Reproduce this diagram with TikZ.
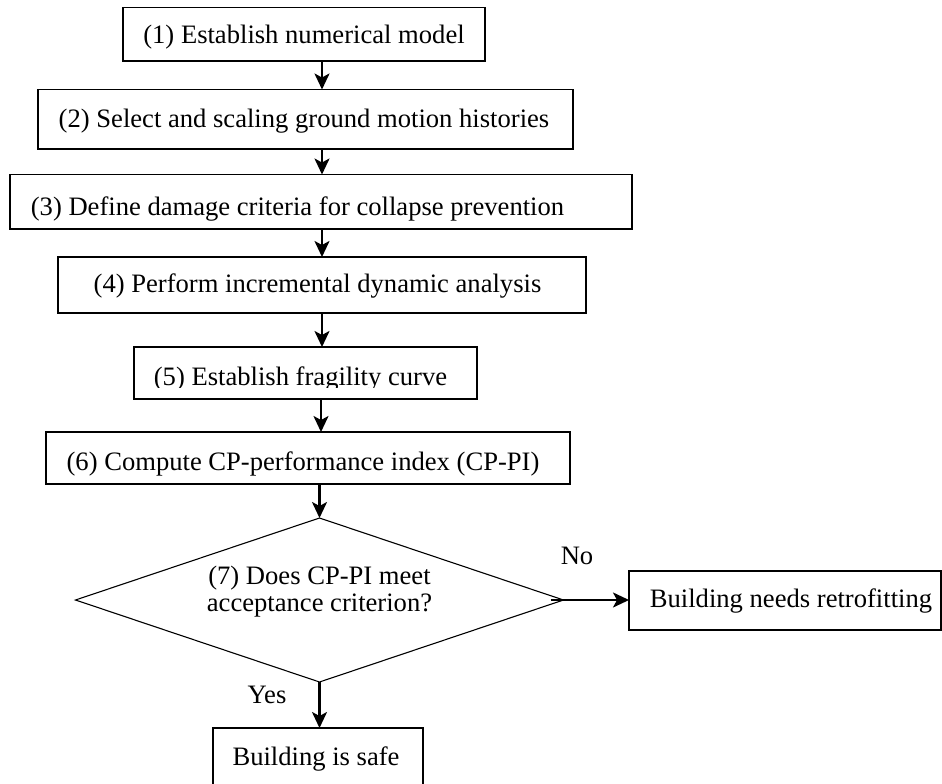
\documentclass[tikz,border=0pt]{standalone}
\usepackage{fontspec}
\setmainfont{Liberation Serif}
\usepackage{trimclip}
\usetikzlibrary{arrows.meta,shapes.geometric}
\begin{document}
\begin{tikzpicture}[x=1pt,y=-1pt,
  box/.style={draw, line width=1.1pt, inner sep=0pt, outer sep=0pt, font=\fontsize{26.6}{27}\selectfont, text depth=0pt},
  decision/.style={draw, line width=1.1pt, shape=diamond, aspect=2.976, inner sep=0pt, outer sep=0pt, font=\fontsize{26.6}{27}\selectfont},
  arr/.style={line width=2.2pt, -{Stealth[length=16pt,width=15pt,inset=4pt]}},
  lbl/.style={font=\fontsize{26.6}{27}\selectfont, inner sep=0pt, anchor=base}]
\path[use as bounding box, clip] (0,0) rectangle (942,784);
\node[box, minimum width=362pt, minimum height=53.7pt, text height=18pt] (b1) at (304,34.2) {(1) Establish numerical model};
\node[box, minimum width=535pt, minimum height=59.5pt, text height=15.5pt] (b2) at (305.5,119.25) {\hspace*{-3pt}(2) Select and scaling ground motion histories};
\node[box, minimum width=622pt, minimum height=54.5pt, text height=26.5pt] (b3) at (321,201.75) {\hspace*{-47pt}(3) Define damage criteria for collapse prevention};
\node[box, minimum width=528pt, minimum height=56pt, text height=15pt] (b4) at (322,285) {\hspace*{-9pt}(4) Perform incremental dynamic analysis};
\node[box, minimum width=343pt, minimum height=52pt, text height=25pt] (b5) at (305.5,373) {\hspace*{-10pt}\clipbox{0pt 3.3pt 0pt 0pt}{(5) Establish fragility curve}};
\node[box, minimum width=524pt, minimum height=52pt, text height=24pt] (b6) at (308,458) {\hspace*{-10pt}(6) Compute CP-performance index (CP-PI)};
\node[decision, minimum width=488pt, minimum height=164pt, text height=0pt, text depth=32pt] (dia) at (319.5,600) {\begin{tabular}[t]{@{}c@{}}(7) Does CP-PI meet\\acceptance criterion?\end{tabular}};
\node[box, minimum width=312pt, minimum height=59pt, text height=14pt] (retro) at (785,600.5) {\hspace*{12pt}Building needs retrofitting};
\node[box, minimum width=210pt, minimum height=62pt, text height=12pt] (safe) at (318,759) {\hspace*{-4pt}Building is safe};
\node[lbl] (no) at (577,564) {No};
\node[lbl] (yes) at (267,703) {Yes};
\coordinate (ax) at (322,0);
\coordinate (ax2) at (321,0);
\draw[arr] (b1.south -| ax) -- (b2.north -| ax);
\draw[arr] (b2.south -| ax) -- (b3.north -| ax);
\draw[arr] (b3.south -| ax) -- (b4.north -| ax);
\draw[arr] (b4.south -| ax) -- (b5.north -| ax);
\draw[arr] (b5.south -| ax2) -- (b6.north -| ax2);
\draw[arr] (b6.south -| dia.north) -- (dia.north);
\draw[arr, shorten <=-13pt] (dia.east) -- (dia.east -| retro.west);
\draw[arr] (dia.south) -- (dia.south |- safe.north);
\end{tikzpicture}
\end{document}
